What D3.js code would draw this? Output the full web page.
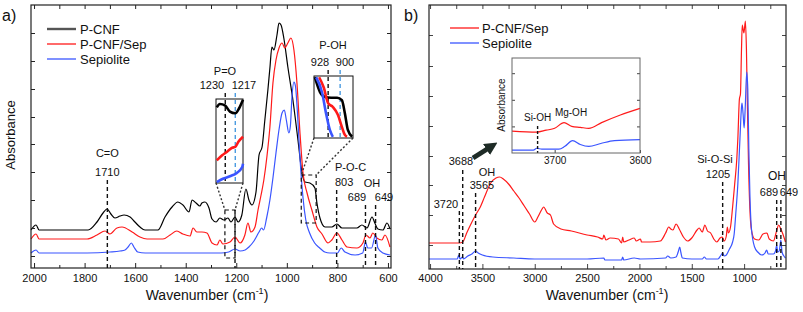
<!DOCTYPE html>
<html>
<head>
<meta charset="utf-8">
<script src="https://cdn.jsdelivr.net/npm/d3@7"></script>
<style>
  body { margin: 0; background: #fff; }
  svg { font-family: "Liberation Sans", Arial, sans-serif; }
</style>
</head>
<body>
<svg id="chart" width="803" height="312"></svg>
<script>
// ---- panel a: spectra, [wavenumber, absorbance (a.u.)]
const pcnfA = [[2012,0.38],[1992,0.43],[1980,0.38],[1786,0.38],[1751,0.46],[1727,0.55],[1711,0.59],[1696,0.54],[1680,0.50],[1660,0.52],[1644,0.53],[1620,0.51],[1601,0.46],[1581,0.41],[1561,0.38],[1510,0.38],[1482,0.51],[1454,0.61],[1431,0.66],[1411,0.63],[1387,0.56],[1375,0.68],[1359,0.65],[1344,0.62],[1336,0.65],[1324,0.66],[1308,0.60],[1296,0.49],[1280,0.46],[1265,0.50],[1249,0.48],[1233,0.50],[1221,0.46],[1205,0.51],[1193,0.46],[1178,0.53],[1162,0.79],[1150,0.68],[1138,0.63],[1122,0.76],[1110,1.13],[1098,1.21],[1087,1.48],[1075,1.78],[1067,2.00],[1059,2.21],[1051,2.18],[1039,2.33],[1031,2.45],[1023,2.43],[1012,2.30],[996,2.01],[976,1.68],[956,1.28],[940,0.95],[928,0.86],[909,0.85],[889,0.80],[881,0.65],[869,0.50],[849,0.41],[822,0.41],[802,0.44],[782,0.40],[723,0.40],[703,0.43],[683,0.40],[663,0.51],[652,0.45],[640,0.39],[620,0.38],[604,0.45],[592,0.39]];
const pcnfSepA = [[2012,0.29],[1992,0.34],[1980,0.29],[1790,0.29],[1751,0.33],[1719,0.37],[1700,0.34],[1672,0.40],[1652,0.41],[1612,0.36],[1581,0.31],[1553,0.29],[1490,0.29],[1462,0.33],[1435,0.37],[1411,0.34],[1383,0.32],[1371,0.40],[1356,0.36],[1336,0.36],[1316,0.35],[1296,0.25],[1276,0.23],[1265,0.28],[1253,0.24],[1225,0.26],[1205,0.31],[1185,0.25],[1166,0.33],[1154,0.45],[1142,0.36],[1126,0.41],[1114,0.58],[1102,0.73],[1091,0.88],[1079,1.11],[1067,1.41],[1055,1.85],[1043,2.08],[1031,2.20],[1019,2.25],[1008,2.20],[996,2.25],[984,2.30],[972,2.18],[960,1.85],[948,1.35],[936,0.95],[920,0.75],[901,0.58],[881,0.41],[861,0.34],[837,0.25],[822,0.28],[802,0.35],[782,0.28],[762,0.21],[723,0.20],[699,0.25],[687,0.33],[671,0.30],[660,0.35],[644,0.30],[624,0.28],[612,0.33],[592,0.21]];
const sepA = [[2012,0.15],[1992,0.18],[1980,0.15],[1790,0.15],[1700,0.16],[1660,0.17],[1640,0.18],[1628,0.21],[1615,0.25],[1605,0.21],[1590,0.16],[1560,0.15],[1260,0.15],[1230,0.16],[1205,0.19],[1185,0.17],[1165,0.18],[1150,0.21],[1130,0.27],[1110,0.36],[1100,0.40],[1092,0.38],[1080,0.50],[1067,0.68],[1055,0.90],[1043,1.15],[1030,1.40],[1019,1.55],[1010,1.58],[1002,1.48],[992,1.35],[986,1.42],[980,1.70],[972,1.86],[966,1.82],[958,1.55],[948,1.10],[936,0.70],[925,0.48],[910,0.35],[890,0.25],[870,0.20],[850,0.16],[830,0.15],[800,0.15],[785,0.20],[770,0.16],[730,0.13],[700,0.15],[689,0.26],[680,0.20],[665,0.20],[649,0.33],[640,0.20],[620,0.15],[592,0.13]];

// zoomed insets of panel a
const poPcnf = [[1241,0.90],[1237,0.94],[1230,0.92],[1224,0.85],[1217,0.83],[1212,0.89],[1207,0.99]];
const poPcnfSep = [[1241,0.27],[1234,0.33],[1228,0.37],[1221,0.42],[1217,0.43],[1213,0.49],[1207,0.55]];
const poSep = [[1241,0.01],[1233,0.05],[1224,0.08],[1215,0.12],[1208,0.19],[1207,0.23]];
const pohPcnf = [[959,0.98],[947,0.74],[935,0.66],[921,0.65],[907,0.65],[896,0.61],[889,0.40],[882,0.13],[872,0.02]];
const pohPcnfSep = [[949,0.98],[938,0.81],[928,0.56],[917,0.50],[905,0.37],[896,0.18],[889,0.05],[884,0.02]];
const pohSep = [[956,0.98],[942,0.73],[933,0.40],[924,0.13],[917,0.02]];

// ---- panel b
const pcnfSepB = [[4010,0.26],[3850,0.26],[3720,0.26],[3688,0.27],[3650,0.36],[3600,0.47],[3565,0.54],[3520,0.62],[3480,0.72],[3420,0.86],[3370,0.91],[3335,0.92],[3300,0.90],[3250,0.85],[3200,0.78],[3150,0.71],[3100,0.63],[3050,0.55],[3000,0.47],[2970,0.52],[2930,0.60],[2915,0.62],[2880,0.56],[2850,0.54],[2820,0.45],[2750,0.40],[2650,0.38],[2500,0.34],[2400,0.32],[2350,0.30],[2340,0.34],[2320,0.29],[2280,0.31],[2200,0.30],[2170,0.26],[2160,0.32],[2150,0.27],[2100,0.29],[2050,0.31],[2030,0.28],[1990,0.30],[1980,0.27],[1900,0.27],[1800,0.28],[1750,0.36],[1720,0.42],[1700,0.40],[1680,0.39],[1650,0.45],[1620,0.40],[1580,0.32],[1540,0.28],[1500,0.31],[1450,0.39],[1430,0.41],[1400,0.37],[1375,0.44],[1350,0.38],[1320,0.36],[1290,0.30],[1260,0.27],[1230,0.31],[1210,0.32],[1190,0.28],[1170,0.33],[1160,0.42],[1150,0.36],[1130,0.42],[1110,0.62],[1090,0.85],[1070,1.10],[1060,1.30],[1045,1.70],[1035,1.75],[1025,2.20],[1018,2.44],[1002,2.36],[988,2.48],[978,2.20],[968,1.60],[958,1.05],[945,0.60],[930,0.39],[900,0.30],[860,0.29],[820,0.35],[782,0.36],[760,0.30],[720,0.28],[690,0.38],[670,0.44],[650,0.40],[630,0.35],[605,0.27]];
const sepB = [[4010,0.10],[3740,0.10],[3725,0.14],[3715,0.10],[3690,0.12],[3680,0.10],[3640,0.13],[3600,0.15],[3565,0.18],[3540,0.16],[3500,0.14],[3400,0.12],[3200,0.11],[3000,0.10],[2500,0.10],[2340,0.11],[2330,0.09],[2170,0.09],[2160,0.12],[2150,0.09],[2050,0.11],[1990,0.10],[1750,0.11],[1730,0.13],[1700,0.11],[1650,0.12],[1630,0.17],[1615,0.22],[1605,0.17],[1590,0.11],[1500,0.10],[1400,0.10],[1380,0.12],[1360,0.10],[1250,0.10],[1220,0.14],[1205,0.16],[1190,0.13],[1170,0.14],[1140,0.20],[1110,0.27],[1095,0.35],[1080,0.55],[1060,0.85],[1040,1.30],[1025,1.62],[1020,1.66],[1010,1.55],[1000,1.41],[990,1.60],[975,1.97],[965,1.80],[955,1.20],[945,0.75],[930,0.40],[900,0.22],[870,0.17],[830,0.14],[800,0.16],[785,0.19],[770,0.15],[720,0.15],[700,0.18],[689,0.24],[680,0.17],[665,0.18],[649,0.29],[638,0.17],[620,0.13],[605,0.11]];
const insetPcnfSepB = [[3750,0.23],[3721,0.22],[3710,0.24],[3700,0.26],[3689,0.32],[3680,0.28],[3670,0.27],[3660,0.26],[3645,0.32],[3623,0.40],[3600,0.47]];
const insetSepB = [[3750,0.03],[3725,0.03],[3721,0.05],[3715,0.04],[3695,0.04],[3688,0.07],[3679,0.13],[3670,0.09],[3660,0.07],[3646,0.10],[3630,0.13],[3600,0.14]];

// ticks and labels
const xMajorA = [2000, 1800, 1600, 1400, 1200, 1000, 800, 600];
const xMinorA = [1900, 1700, 1500, 1300, 1100, 900, 700];
const yTicksA = [0.12, 0.40, 0.68, 0.96, 1.24, 1.51, 1.79, 2.07, 2.35];
const xMajorB = [4000, 3500, 3000, 2500, 2000, 1500, 1000];
const xMinorB = [3750, 3250, 2750, 2250, 1750, 1250, 750];
const yTicksB = [0.24, 0.54, 0.84, 1.13, 1.43, 1.73, 2.03, 2.34];
const insetTicksB = [3700, 3600];
const legendA = ["P-CNF", "P-CNF/Sep", "Sepiolite"];
const legendB = ["P-CNF/Sep", "Sepiolite"];

const BLACK = "#000", RED = "#ff1a1a", BLUE = "#3a55ff", LBLUE = "#4a9be0";

const svg = d3.select("#chart");

function frame(g, x, y, xMajor, xMinor, yTicks, pad) {
  const [x0, x1] = x.range(), [y0, y1] = y.range();
  g.append("g").attr("transform", `translate(0,${y0})`)
    .call(d3.axisBottom(x).tickValues(xMajor).tickSize(-5).tickPadding(pad).tickFormat(d3.format("d")))
    .call(a => a.select(".domain").remove())
    .call(a => a.selectAll("text").attr("font-size", 11).attr("fill", "#111").style("font-family", "Liberation Sans, Arial, sans-serif"));
  g.append("g").attr("transform", `translate(0,${y0})`)
    .call(d3.axisBottom(x).tickValues(xMinor).tickSize(-3).tickFormat(""))
    .call(a => a.select(".domain").remove());
  g.append("g").attr("transform", `translate(0,${y1})`)
    .call(d3.axisTop(x).tickValues(xMajor.concat(xMinor)).tickSize(-4).tickFormat(""))
    .call(a => a.select(".domain").remove());
  g.append("g").attr("transform", `translate(${x0},0)`)
    .call(d3.axisLeft(y).tickValues(yTicks).tickSize(-4).tickFormat(""))
    .call(a => a.select(".domain").remove());
  g.append("g").attr("transform", `translate(${x1},0)`)
    .call(d3.axisRight(y).tickValues(yTicks).tickSize(-4).tickFormat(""))
    .call(a => a.select(".domain").remove());
  g.selectAll(".tick line").attr("stroke", "#222");
  g.append("rect").attr("x", x0).attr("y", y1).attr("width", x1 - x0).attr("height", y0 - y1)
    .attr("fill", "none").attr("stroke", "#222").attr("stroke-width", 1.2);
}

function xTitle(g, cx, yy) {
  const t = g.append("text").attr("x", cx).attr("y", yy).attr("text-anchor", "middle").attr("font-size", 14).attr("fill", "#111");
  t.append("tspan").text("Wavenumber (cm");
  t.append("tspan").attr("dy", -6).attr("font-size", 9).text("-1");
  t.append("tspan").attr("dy", 6).text(")");
}

function spectrum(g, x, y, data, color, w) {
  const line = d3.line().x(d => x(d[0])).y(d => y(d[1])).curve(d3.curveMonotoneX);
  g.append("path").datum(data).attr("d", line).attr("fill", "none")
    .attr("stroke", color).attr("stroke-width", w).attr("stroke-linejoin", "round");
}

function dashed(g, x1, y1, x2, y2, color, dash) {
  g.append("line").attr("x1", x1).attr("y1", y1).attr("x2", x2).attr("y2", y2)
    .attr("stroke", color || "#111").attr("stroke-width", 1.4).attr("stroke-dasharray", dash || "4,3");
}

function label(g, text, xx, yy, size, anchor) {
  g.append("text").attr("x", xx).attr("y", yy).attr("font-size", size || 11)
    .attr("text-anchor", anchor || "middle").attr("fill", "#111").text(text);
}

// ================= panel a =================
const ga = svg.append("g");
const xa = d3.scaleLinear().domain([2012, 588]).range([31, 391]);
const ya = d3.scaleLinear().domain([0, 2.63]).range([268, 5]);

spectrum(ga, xa, ya, pcnfA, BLACK, 1.2);
spectrum(ga, xa, ya, pcnfSepA, RED, 1.2);
spectrum(ga, xa, ya, sepA, BLUE, 1.2);
frame(ga, xa, ya, xMajorA, xMinorA, yTicksA, 6);
xTitle(ga, 207, 300);
ga.append("text").attr("transform", "translate(15,135) rotate(-90)").attr("text-anchor", "middle")
  .attr("font-size", 13).attr("fill", "#111").text("Absorbance");
label(ga, "a)", 2, 21, 16, "start");

// legend a
legendA.forEach((name, i) => {
  const yy = 29 + i * 15;
  ga.append("line").attr("x1", 47).attr("x2", 76).attr("y1", yy).attr("y2", yy)
    .attr("stroke", [ "#555", RED, BLUE ][i]).attr("stroke-width", i === 0 ? 2.4 : 1.3);
  label(ga, name, 80, yy + 5, 13, "start");
});

// C=O
dashed(ga, xa(1710), 180, xa(1710), 268);
label(ga, "C=O", xa(1710), 157);
label(ga, "1710", xa(1710), 176);
// P-O-C
dashed(ga, xa(803), 190, xa(803), 268);
label(ga, "P-O-C", 335, 171, 11, "start");
label(ga, "803", 335, 186, 11, "start");
// OH
dashed(ga, xa(689), 205, xa(689), 268);
dashed(ga, xa(649), 205, xa(649), 268);
label(ga, "OH", 372, 187);
label(ga, "689", 357, 201);
label(ga, "649", 384, 201);

// P=O inset
const poBox = { x0: 216, x1: 243, y0: 183, y1: 99 };
const xPo = d3.scaleLinear().domain([1242, 1207]).range([poBox.x0, poBox.x1]);
const yPo = d3.scaleLinear().domain([0, 1]).range([poBox.y0, poBox.y1]);
ga.append("rect").attr("x", poBox.x0).attr("y", poBox.y1).attr("width", poBox.x1 - poBox.x0)
  .attr("height", poBox.y0 - poBox.y1).attr("fill", "#fff").attr("stroke", "#111").attr("stroke-width", 1);
dashed(ga, xPo(1230), 93, xPo(1230), poBox.y0);
dashed(ga, xPo(1217), 93, xPo(1217), poBox.y0, LBLUE);
spectrum(ga, xPo, yPo, poPcnf, BLACK, 2.6);
spectrum(ga, xPo, yPo, poPcnfSep, RED, 2.6);
spectrum(ga, xPo, yPo, poSep, BLUE, 2.6);
label(ga, "P=O", 225, 75);
label(ga, "1230", 212, 89);
label(ga, "1217", 244, 89);
// zoomed region and guide lines
ga.append("rect").attr("x", xa(1245)).attr("y", ya(0.58)).attr("width", xa(1205) - xa(1245))
  .attr("height", ya(0.10) - ya(0.58)).attr("fill", "none").attr("stroke", "#111")
  .attr("stroke-width", 1.2).attr("stroke-dasharray", "4,3");
dashed(ga, xa(1205), ya(0.58), xa(1205), 268);
dashed(ga, poBox.x0, poBox.y0, xa(1245), ya(0.58), "#333", "2,2");
dashed(ga, poBox.x1, poBox.y0, xa(1205), ya(0.58), "#333", "2,2");

// P-OH inset
const pohBox = { x0: 314, x1: 353, y0: 138, y1: 76 };
const xPoh = d3.scaleLinear().domain([961, 870]).range([pohBox.x0, pohBox.x1]);
const yPoh = d3.scaleLinear().domain([0, 1]).range([pohBox.y0, pohBox.y1]);
ga.append("rect").attr("x", pohBox.x0).attr("y", pohBox.y1).attr("width", pohBox.x1 - pohBox.x0)
  .attr("height", pohBox.y0 - pohBox.y1).attr("fill", "#fff").attr("stroke", "#111").attr("stroke-width", 1);
dashed(ga, xPoh(928), 70, xPoh(928), pohBox.y0);
dashed(ga, xPoh(900), 70, xPoh(900), pohBox.y0, LBLUE);
spectrum(ga, xPoh, yPoh, pohPcnf, BLACK, 2.6);
spectrum(ga, xPoh, yPoh, pohPcnfSep, RED, 2.6);
spectrum(ga, xPoh, yPoh, pohSep, BLUE, 2.6);
label(ga, "P-OH", 333, 49);
label(ga, "928", 320, 66);
label(ga, "900", 345, 66);
ga.append("rect").attr("x", xa(943)).attr("y", ya(0.93)).attr("width", xa(884) - xa(943))
  .attr("height", ya(0.45) - ya(0.93)).attr("fill", "none").attr("stroke", "#111")
  .attr("stroke-width", 1.2).attr("stroke-dasharray", "4,3");
dashed(ga, pohBox.x0, pohBox.y0, xa(943), ya(0.93), "#333", "2,2");
dashed(ga, pohBox.x1, pohBox.y0, xa(884), ya(0.93), "#333", "2,2");

// ================= panel b =================
const gb = svg.append("g");
const xb = d3.scaleLinear().domain([4010, 600]).range([429, 786]);
const yb = d3.scaleLinear().domain([0, 2.64]).range([269, 5]);

spectrum(gb, xb, yb, pcnfSepB, RED, 1.2);
spectrum(gb, xb, yb, sepB, BLUE, 1.2);
frame(gb, xb, yb, xMajorB, xMinorB, yTicksB, 5);
xTitle(gb, 607, 300);
label(gb, "b)", 404, 21, 16, "start");

legendB.forEach((name, i) => {
  const yy = 28 + i * 15;
  gb.append("line").attr("x1", 450).attr("x2", 479).attr("y1", yy).attr("y2", yy)
    .attr("stroke", [RED, BLUE][i]).attr("stroke-width", 1.3);
  label(gb, name, 482, yy + 5, 13, "start");
});

dashed(gb, xb(3720), 211, xb(3720), 269);
label(gb, "3720", 446, 208);
dashed(gb, xb(3688), 170, xb(3688), 269);
label(gb, "3688", 461, 165);
dashed(gb, xb(3565), 193, xb(3565), 269);
label(gb, "OH", 487, 176, 11);
label(gb, "3565", 482, 189);
dashed(gb, xb(1205), 182, xb(1205), 269);
label(gb, "Si-O-Si", 715, 163);
label(gb, "1205", 718, 178);
dashed(gb, xb(689), 200, xb(689), 269);
dashed(gb, xb(649), 200, xb(649), 269);
label(gb, "OH", 777, 180, 12);
label(gb, "689", 769, 196);
label(gb, "649", 789, 196);

// inset b
const ib = { x0: 512, x1: 640, y0: 153, y1: 58 };
const xib = d3.scaleLinear().domain([3750, 3600]).range([ib.x0, ib.x1]);
const yib = d3.scaleLinear().domain([0, 1]).range([ib.y0, ib.y1]);
gb.append("rect").attr("x", ib.x0).attr("y", ib.y1).attr("width", ib.x1 - ib.x0)
  .attr("height", ib.y0 - ib.y1).attr("fill", "#fff");
spectrum(gb, xib, yib, insetPcnfSepB, RED, 1.2);
spectrum(gb, xib, yib, insetSepB, BLUE, 1.2);
dashed(gb, xib(3720), 126, xib(3720), ib.y0, "#111", "3,2");
label(gb, "Si-OH", xib(3720), 121, 10);
label(gb, "Mg-OH", 571, 116, 10);
const ibTicksY = [0.28, 0.56, 0.84];
gb.append("g").attr("transform", `translate(${ib.x0},0)`)
  .call(d3.axisLeft(yib).tickValues(ibTicksY).tickSize(-3).tickFormat(""))
  .call(a => a.select(".domain").remove());
gb.append("g").attr("transform", `translate(${ib.x1},0)`)
  .call(d3.axisRight(yib).tickValues(ibTicksY).tickSize(-3).tickFormat(""))
  .call(a => a.select(".domain").remove());
gb.append("g").attr("transform", `translate(0,${ib.y0})`)
  .call(d3.axisBottom(xib).tickValues(insetTicksB).tickSize(-3).tickPadding(4).tickFormat(d3.format("d")))
  .call(a => a.select(".domain").remove())
  .call(a => a.selectAll("text").attr("font-size", 10).attr("fill", "#111"));
gb.append("rect").attr("x", ib.x0).attr("y", ib.y1).attr("width", ib.x1 - ib.x0)
  .attr("height", ib.y0 - ib.y1).attr("fill", "none").attr("stroke", "#666").attr("stroke-width", 1);
gb.selectAll(".tick line").attr("stroke", "#444");
gb.append("text").attr("transform", "translate(505,105) rotate(-90)").attr("text-anchor", "middle")
  .attr("font-size", 10).attr("fill", "#111").text("Absorbance");

// arrow towards the inset
svg.append("defs").append("marker").attr("id", "ah").attr("viewBox", "0 0 10 10")
  .attr("refX", 5).attr("refY", 5).attr("markerWidth", 2.6).attr("markerHeight", 2.6).attr("orient", "auto")
  .append("path").attr("d", "M0,0 L10,5 L0,10 z").attr("fill", "#1e2b26");
gb.append("line").attr("x1", 473).attr("y1", 158).attr("x2", 492).attr("y2", 146)
  .attr("stroke", "#1e2b26").attr("stroke-width", 5).attr("marker-end", "url(#ah)");
</script>
</body>
</html>
